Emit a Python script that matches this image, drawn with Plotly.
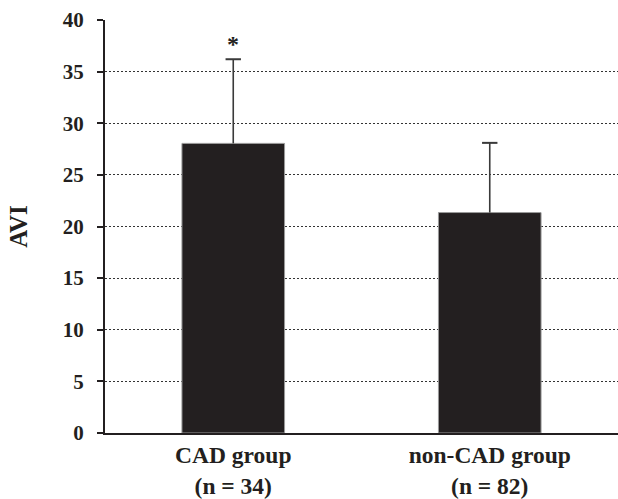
import plotly.graph_objects as go

categories = ["CAD group<br>(n = 34)", "non-CAD group<br>(n = 82)"]
means = [28.05, 21.35]
sd_upper = [8.15, 6.75]
sig_marks = ["*", ""]
y_ticks = [0, 5, 10, 15, 20, 25, 30, 35, 40]

font_family = "Liberation Serif, Times New Roman, serif"
ink = "#231f20"
err_col = "#3a3a3a"

fig = go.Figure()
fig.add_trace(go.Bar(
    x=categories,
    y=means,
    marker=dict(color=ink, line=dict(color="#9a9a9a", width=1)),
    width=0.4,
    showlegend=False,
    hoverinfo="skip",
))

# one-sided (upper) error bars: stem + cap
for c, m, e in zip(categories, means, sd_upper):
    fig.add_trace(go.Scatter(
        x=[c, c], y=[m, m + e], mode="lines",
        line=dict(color=err_col, width=1.6),
        showlegend=False, hoverinfo="skip",
    ))
    fig.add_trace(go.Scatter(
        x=[c], y=[m + e], mode="markers",
        marker=dict(symbol="line-ew-open", size=11, color=err_col,
                    line=dict(color=err_col, width=2)),
        showlegend=False, hoverinfo="skip",
    ))

for c, m, e, s in zip(categories, means, sd_upper, sig_marks):
    if s:
        fig.add_annotation(x=c, y=m + e, text="<b>" + s + "</b>", showarrow=False,
                           yanchor="bottom", yshift=0,
                           font=dict(family=font_family, size=24, color=ink))

fig.update_layout(
    width=618, height=499,
    margin=dict(l=105, r=0, t=20, b=66),
    plot_bgcolor="white", paper_bgcolor="white",
    font=dict(family=font_family, color=ink),
    bargap=0.6,
)
fig.update_xaxes(
    range=[-0.5, 1.5],
    showline=True, linecolor=ink, linewidth=2,
    ticks="", showgrid=False, automargin=False,
    tickvals=categories,
    ticktext=["<b>" + t.replace("<br>", "</b><br><b>") + "</b>" for t in categories],
    tickfont=dict(family=font_family, size=23.5, color=ink),
)
fig.update_yaxes(
    range=[0, 40], tickvals=y_ticks,
    ticktext=["<b>%d</b>" % v for v in y_ticks],
    showline=True, linecolor=ink, linewidth=2,
    ticks="outside", ticklen=6, tickwidth=2, tickcolor=ink,
    showgrid=True, gridcolor="#333333", gridwidth=1, griddash="2px,2px",
    zeroline=False, automargin=False,
    ticklabelstandoff=9,
    tickfont=dict(family=font_family, size=21, color=ink),
    title=dict(text="<b>AVI</b>", standoff=28,
               font=dict(family=font_family, size=25, color=ink)),
)

fig.write_html(
    "out.html",
    config={"displayModeBar": False},
    post_script="document.body.style.margin='0px';document.body.style.overflow='hidden';",
)
